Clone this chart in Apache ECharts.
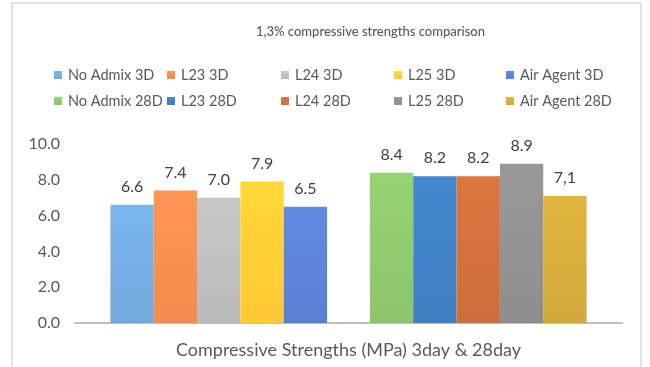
<!DOCTYPE html>
<html>
<head>
<meta charset="utf-8">
<script src="https://cdn.jsdelivr.net/npm/echarts@6/dist/echarts.min.js"></script>
<style>
  html, body { margin: 0; padding: 0; background: #fff; }
  #chart { width: 650px; height: 367px; }
</style>
</head>
<body>
<div id="chart"></div>
<script>
// Compressive strength (MPa) at 3 and 28 days, 1,3% dosage
const categories = ['3day', '28day'];
const names3D = ['No Admix 3D', 'L23 3D', 'L24 3D', 'L25 3D', 'Air Agent 3D'];
const names28D = ['No Admix 28D', 'L23 28D', 'L24 28D', 'L25 28D', 'Air Agent 28D'];
const values3D = [6.6, 7.4, 7.0, 7.9, 6.5];
const values28D = [8.4, 8.2, 8.2, 8.9, 7.1];
// decimal separator printed on each 28-day label
const decimalMarks28D = ['.', '.', '.', '.', ','];
const yTicks = [0, 2, 4, 6, 8, 10];

const colors3D = ['#72a9de', '#f28b4f', '#bababa', '#ffc834', '#5a80d2'];
const colors28D = ['#8cc46b', '#3f7ec0', '#cc6e3c', '#8e8e8e', '#d1a83a'];

const FONT = 'Lato, "Open Sans", sans-serif';
const TXT = '#595959';

function shade(c) {
  return {
    type: 'linear', x: 0, y: 0, x2: 0, y2: 1,
    colorStops: [{ offset: 0, color: echarts.color.lift(c, -0.08) }, { offset: 1, color: c }]
  };
}

function makeSeries(name, color, idx, value, mark, catIndex) {
  const data = categories.map((_, i) => (i === catIndex ? value : '-'));
  return {
    name: name,
    type: 'bar',
    xAxisIndex: 0,
    yAxisIndex: 0,
    stack: 'slot' + idx,
    barGap: '0%',
    barCategoryGap: '16.5%',
    data: data,
    itemStyle: { color: shade(color) },
    label: {
      show: true,
      position: 'top',
      distance: 10,
      color: '#404040',
      fontFamily: FONT,
      fontSize: 16,
      formatter: p => (typeof p.value === 'number' ? p.value.toFixed(1).replace('.', mark) : '')
    }
  };
}

const series = [];
names3D.forEach((n, i) => series.push(makeSeries(n, colors3D[i], i, values3D[i], '.', 0)));
names28D.forEach((n, i) => series.push(makeSeries(n, colors28D[i], i, values28D[i], decimalMarks28D[i], 1)));

const legendCols = [54, 167, 281, 394, 506];
const legends = legendCols.map((x, i) => ({
  orient: 'vertical',
  left: x,
  top: 67,
  padding: 0,
  itemWidth: 8,
  itemHeight: 8,
  itemGap: 10,
  icon: 'rect',
  data: [names3D[i], names28D[i]],
  textStyle: { color: TXT, fontFamily: FONT, fontSize: 14.5, lineHeight: 16, padding: [0, 0, 0, 1] },
  selectedMode: false
}));

const GRID_TOP = 144, GRID_BOTTOM = 44;

const option = {
  animation: false,
  backgroundColor: '#ffffff',
  title: {
    text: '1,3% compressive strengths comparison',
    left: 256,
    top: 25,
    padding: 0,
    textStyle: { color: TXT, fontFamily: FONT, fontSize: 13, fontWeight: 500 }
  },
  legend: legends,
  grid: [
    { left: 89, right: 42, top: GRID_TOP, bottom: GRID_BOTTOM },
    { left: 75, right: 28, top: GRID_TOP, bottom: GRID_BOTTOM }
  ],
  xAxis: [
    {
      type: 'category', gridIndex: 0, data: categories,
      axisLine: { show: false }, axisTick: { show: false }, axisLabel: { show: false }
    },
    {
      type: 'category', gridIndex: 1, data: categories,
      axisLine: { show: true, lineStyle: { color: '#bfbfbf', width: 2 } },
      axisTick: { show: false }, axisLabel: { show: false },
      name: 'Compressive Strengths (MPa) 3day & 28day',
      nameLocation: 'middle',
      nameGap: 18,
      nameTextStyle: { color: TXT, fontFamily: FONT, fontSize: 18 }
    }
  ],
  yAxis: [
    {
      type: 'value', gridIndex: 0, min: yTicks[0], max: yTicks[yTicks.length - 1], interval: 2,
      show: false, splitLine: { show: false }
    },
    {
      type: 'value', gridIndex: 1, min: yTicks[0], max: yTicks[yTicks.length - 1], interval: 2,
      axisLine: { show: false }, axisTick: { show: false }, splitLine: { show: false },
      axisLabel: {
        margin: 15, color: TXT, fontFamily: FONT, fontSize: 16,
        formatter: v => v.toFixed(1)
      }
    }
  ],
  graphic: [{
    type: 'rect',
    shape: { x: 12, y: 3, width: 629, height: 380 },
    style: { fill: 'none', stroke: '#d9d9d9', lineWidth: 1.5 },
    silent: true,
    z: -1
  }],
  series: series
};

const chart = echarts.init(document.getElementById('chart'), null, { renderer: 'canvas' });
chart.setOption(option);
</script>
</body>
</html>
